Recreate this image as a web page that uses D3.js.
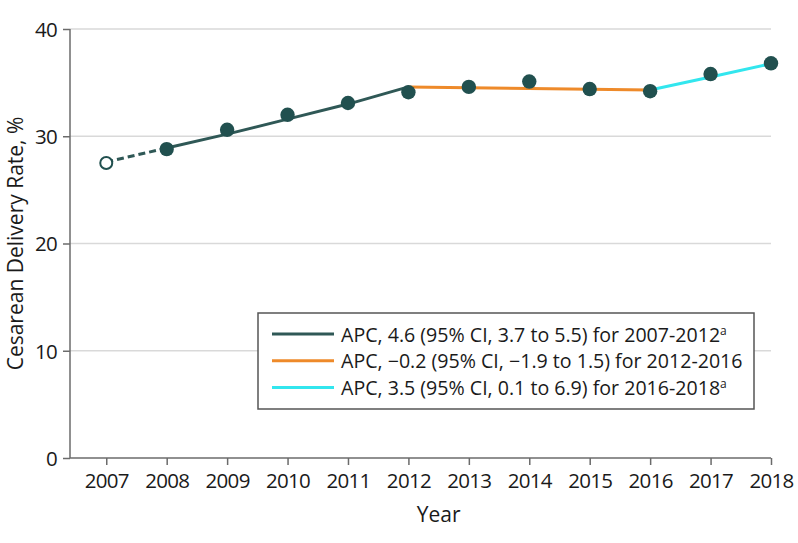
<!DOCTYPE html><html><head><script src="https://cdn.jsdelivr.net/npm/d3@7"></script>
<style>body{margin:0;background:#fff}text{font-family:"Open Sans",sans-serif;fill:#1a1a1a}</style></head><body><svg id="s" width="798" height="543"></svg><script>
const years=[2007,2008,2009,2010,2011,2012,2013,2014,2015,2016,2017,2018];
const observed=[27.5,28.8,30.6,32.0,33.1,34.1,34.6,35.1,34.4,34.2,35.8,36.8];
const seg1Years=[2007,2008,2009,2010,2011,2012];
const seg1Fit=[27.6,28.9,30.2,31.6,33.0,34.6];
const seg2Years=[2012,2013,2014,2015,2016];
const seg2Fit=[34.6,34.53,34.46,34.39,34.32];
const seg3Years=[2016,2017,2018];
const seg3Fit=[34.32,35.52,36.76];
const yTicks=[0,10,20,30,40];
const legendLabels=[
 ["APC, 4.6 (95% CI, 3.7 to 5.5) for 2007-2012","a"],
 ["APC, \u22120.2 (95% CI, \u22121.9 to 1.5) for 2012-2016",""],
 ["APC, 3.5 (95% CI, 0.1 to 6.9) for 2016-2018","a"]];
const colors=["#2f5856","#ee8a2a","#32e6ee"];
const dotColor="#21504f";

const svg=d3.select("#s");
const x=d3.scaleLinear().domain([2006.4,2018]).range([70,771]);
const y=d3.scaleLinear().domain([0,40]).range([458,29]);

// gridlines
svg.append("g").selectAll("line").data(yTicks.filter(d=>d>0)).join("line")
 .attr("x1",70).attr("x2",771).attr("y1",d=>y(d)).attr("y2",d=>y(d))
 .attr("stroke","#d9d9d9").attr("stroke-width",1.5);

// axes
const yAxis=svg.append("g").attr("transform","translate(70,0)")
 .call(d3.axisLeft(y).tickValues(yTicks).tickSize(7).tickPadding(6));
const xAxis=svg.append("g").attr("transform","translate(0,458)")
 .call(d3.axisBottom(x).tickValues(years).tickFormat(d3.format("d")).tickSize(7).tickPadding(8));
[yAxis,xAxis].forEach(g=>{
 g.select(".domain").attr("stroke","#6b6b6b").attr("stroke-width",1.5);
 g.selectAll(".tick line").attr("stroke","#6b6b6b").attr("stroke-width",1.5);
 g.selectAll(".tick text").style("font-family","Open Sans").style("font-size","20.5px").style("letter-spacing","-0.7px").attr("fill","#1a1a1a");
});
xAxis.select(".domain").attr("d","M70,0H771");
yAxis.select(".domain").attr("d","M0,"+y(0)+"V"+y(40));
yAxis.selectAll(".tick text").attr("dy","0.36em");

// axis titles
svg.append("text").attr("x",x(2012.5)).attr("y",522).attr("text-anchor","middle").style("font-size","21px").text("Year");
svg.append("text").attr("transform","translate(23,"+((y(0)+y(40))/2)+") rotate(-90)").attr("text-anchor","middle").style("font-size","21px").text("Cesarean Delivery Rate, %");

// fitted lines
const line=d3.line().x(d=>x(d[0])).y(d=>y(d[1]));
const s1=seg1Years.map((d,i)=>[d,seg1Fit[i]]);
svg.append("path").attr("d",line(s1.slice(0,2))).attr("fill","none").attr("stroke",colors[0]).attr("stroke-width",3).attr("stroke-dasharray","7,4");
svg.append("path").attr("d",line(s1.slice(1))).attr("fill","none").attr("stroke",colors[0]).attr("stroke-width",3);
svg.append("path").attr("d",line(seg2Years.map((d,i)=>[d,seg2Fit[i]]))).attr("fill","none").attr("stroke",colors[1]).attr("stroke-width",3);
svg.append("path").attr("d",line(seg3Years.map((d,i)=>[d,seg3Fit[i]]))).attr("fill","none").attr("stroke",colors[2]).attr("stroke-width",3);

// dots
svg.append("g").selectAll("circle").data(years.map((d,i)=>[d,observed[i]])).join("circle")
 .attr("cx",d=>x(d[0])).attr("cy",d=>y(d[1]))
 .attr("r",(d,i)=>i===0?6:7.2)
 .attr("fill",(d,i)=>i===0?"#fff":dotColor)
 .attr("stroke",(d,i)=>i===0?dotColor:"none").attr("stroke-width",2);

// legend
const lg=svg.append("g");
lg.append("rect").attr("x",258).attr("y",313).attr("width",496).attr("height",96).attr("fill","#fff").attr("stroke","#555").attr("stroke-width",1.5);
legendLabels.forEach((l,i)=>{
 const cy=334+i*26.7;
 lg.append("line").attr("x1",272).attr("x2",334).attr("y1",cy).attr("y2",cy).attr("stroke",colors[i]).attr("stroke-width",3);
 const t=lg.append("text").attr("x",341).attr("y",cy+7.5).style("font-size","19.6px").text(l[0]);
 if(l[1]) t.append("tspan").attr("dy","-7").style("font-size","12px").text(l[1]);
});
</script></body></html>
